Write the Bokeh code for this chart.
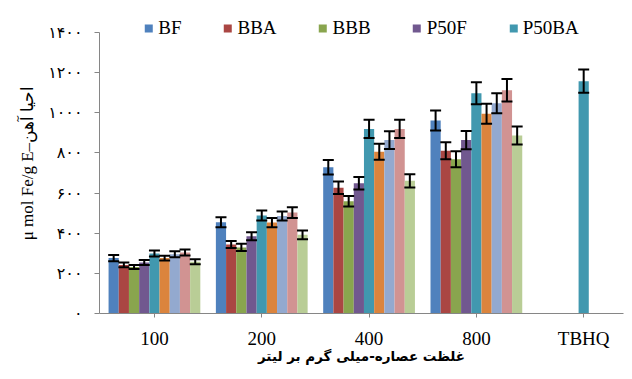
import numpy as np
from bokeh.plotting import figure
from bokeh.models import (ColumnDataSource, Whisker, TeeHead, Legend, LegendItem,
                          FixedTicker, Range1d)
from bokeh.embed import file_html
from bokeh.resources import INLINE

# ---- data ----
categories = ["100", "200", "400", "800", "TBHQ"]
series_names = ["BF", "BBA", "BBB", "P50F", "P50BA", "S6", "S7", "S8", "S9"]
legend_names = ["BF", "BBA", "BBB", "P50F", "P50BA"]

BF = [276, 455, 729, 962, None]
BBA = [242, 344, 627, 811, None]
BBB = [232, 329, 559, 769, None]
P50F = [254, 385, 649, 864, None]
P50BA = [299, 488, 920, 1098, 1158]
S6 = [276, 453, 806, 995, None]
S7 = [295, 486, 864, 1048, None]
S8 = [304, 503, 920, 1113, None]
S9 = [258, 392, 661, 887, None]

BF_err = [16, 25, 36, 50, None]
BBA_err = [12, 17, 31, 42, None]
BBB_err = [10, 18, 26, 40, None]
P50F_err = [12, 20, 31, 46, None]
P50BA_err = [15, 25, 46, 55, 58]
S6_err = [12, 23, 40, 50, None]
S7_err = [15, 22, 44, 50, None]
S8_err = [15, 27, 46, 56, None]
S9_err = [12, 22, 33, 45, None]

y_ticks = [0, 200, 400, 600, 800, 1000, 1200, 1400]
y_tick_labels = ["۰", "۲۰۰", "۴۰۰", "۶۰۰", "۸۰۰", "۱۰۰۰", "۱۲۰۰", "۱۴۰۰"]

series_values = [BF, BBA, BBB, P50F, P50BA, S6, S7, S8, S9]
series_errs = [BF_err, BBA_err, BBB_err, P50F_err, P50BA_err, S6_err, S7_err, S8_err, S9_err]
colors = ["#4F81BD", "#AA4643", "#89A54E", "#71588F", "#4198AF",
          "#DB843D", "#93A9CF", "#D19392", "#B9CD96"]

SERIF = "Liberation Serif"
AXIS_COLOR = "#868686"

p = figure(width=624, height=371, output_backend="svg", toolbar_location=None,
           x_range=Range1d(-0.512, 4.371), y_range=Range1d(0, 1500),
           min_border_left=99, min_border_right=1, min_border_top=12,
           min_border_bottom=58)
p.outline_line_color = None
p.xgrid.visible = False
p.ygrid.visible = False

bar_w = 0.095
renderers = []
for i, (name, vals, errs, col) in enumerate(zip(series_names, series_values, series_errs, colors)):
    xs, ys, lo, hi = [], [], [], []
    for gi, (v, e) in enumerate(zip(vals, errs)):
        if v is None:
            continue
        xs.append(gi + (i - 4) * bar_w)
        ys.append(v)
        lo.append(v - e)
        hi.append(v + e)
    src = ColumnDataSource(dict(x=xs, top=ys, lower=lo, upper=hi))
    r = p.vbar(x="x", top="top", width=bar_w, source=src, fill_color=col,
               line_color=None)
    renderers.append(r)
    w = Whisker(base="x", lower="lower", upper="upper", source=src,
                line_color="black", line_width=2, level="overlay",
                upper_head=TeeHead(size=11, line_color="black", line_width=2),
                lower_head=TeeHead(size=11, line_color="black", line_width=2))
    p.add_layout(w)

legend = Legend(items=[LegendItem(label=n, renderers=[renderers[k]])
                       for k, n in enumerate(legend_names)],
                orientation="horizontal", location="top_center",
                label_text_font=SERIF, label_text_font_size="19px",
                label_text_color="black",
                glyph_width=10, glyph_height=10, label_standoff=5, spacing=41,
                padding=3, margin=2, border_line_alpha=0,
                background_fill_alpha=0)
p.add_layout(legend)

# y axis
ya = p.yaxis[0]
ya.ticker = FixedTicker(ticks=y_ticks)
ya.bounds = (0, 1400)
ya.major_label_overrides = {t: l for t, l in zip(y_ticks, y_tick_labels)}
ya.major_label_text_font = "DejaVu Sans"
ya.major_label_text_font_size = "16px"
ya.major_label_text_color = "black"
ya.major_label_standoff = 12
ya.axis_line_color = AXIS_COLOR
ya.major_tick_line_color = AXIS_COLOR
ya.major_tick_in = 0
ya.major_tick_out = 5
ya.minor_tick_line_color = None
ya.axis_label = "μ mol Fe/g E–احیا آهن"
ya.axis_label_text_font = SERIF
ya.axis_label_text_font_style = "normal"
ya.axis_label_text_font_size = "17px"
ya.axis_label_text_color = "black"
ya.axis_label_standoff = 8

# x axis
xa = p.xaxis[0]
xa.ticker = FixedTicker(ticks=list(range(len(categories))))
xa.major_label_overrides = {i: c for i, c in enumerate(categories)}
xa.major_label_text_font = SERIF
xa.major_label_text_font_size = "19px"
xa.major_label_text_color = "black"
xa.major_label_standoff = 10
xa.axis_line_color = AXIS_COLOR
xa.major_tick_line_color = AXIS_COLOR
xa.major_tick_in = 0
xa.major_tick_out = 4
xa.minor_tick_line_color = None
xa.axis_label = "غلظت عصاره-میلی گرم بر لیتر"
xa.axis_label_text_font = "DejaVu Sans"
xa.axis_label_text_font_style = "bold"
xa.axis_label_text_font_size = "13.5px"
xa.axis_label_text_color = "black"
xa.axis_label_standoff = -4

open("out.html", "w").write(file_html(p, INLINE))
